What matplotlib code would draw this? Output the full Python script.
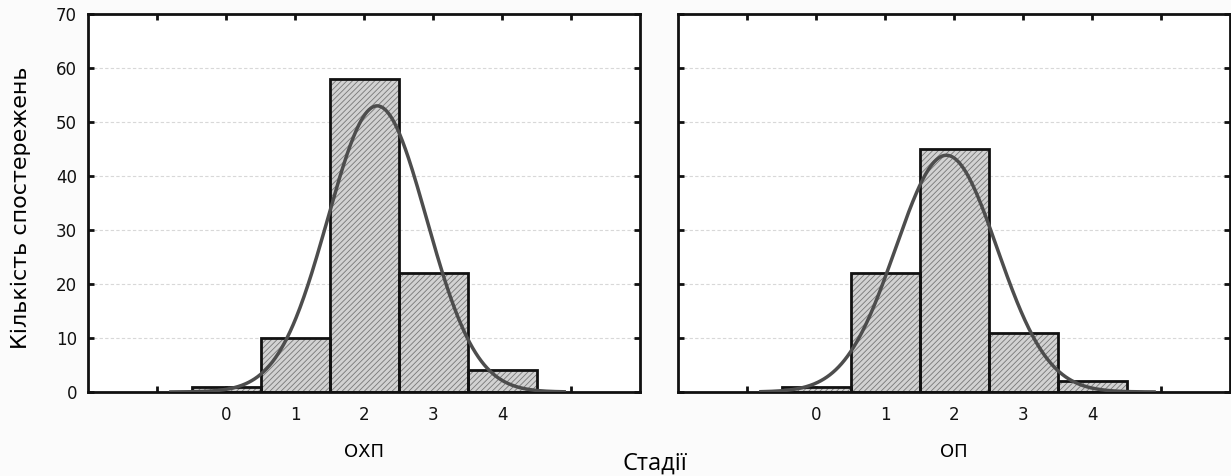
import numpy as np
import matplotlib
matplotlib.use("Agg")
import matplotlib.pyplot as plt

plt.rcParams['font.family'] = ['DejaVu Sans']
plt.rcParams['hatch.linewidth'] = 0.6

stages = [0, 1, 2, 3, 4]
ohp_counts = [1, 10, 58, 22, 4]
op_counts = [1, 22, 45, 11, 2]
panel_names = ["ОХП", "ОП"]
ylabel_text = "Кількість спостережень"
xlabel_text = "Стадії"

fig = plt.figure(figsize=(12.31, 4.76), dpi=100, facecolor='#fbfbfb')
ax1 = fig.add_axes([0.0715, 0.1765, 0.4485, 0.794])
ax2 = fig.add_axes([0.5508, 0.1765, 0.4484, 0.794])


def normal_fit(x, counts):
    # fitted normal curve scaled to counts (bin width 1)
    x = np.array(x, dtype=float)
    c = np.array(counts, dtype=float)
    n = c.sum()
    m = (x * c).sum() / n
    sd = np.sqrt(((x - m) ** 2 * c).sum() / n)
    xs = np.linspace(-0.8, 4.9, 400)
    ys = n / (sd * np.sqrt(2 * np.pi)) * np.exp(-0.5 * ((xs - m) / sd) ** 2)
    return xs, ys


for ax, counts, name in [(ax1, ohp_counts, panel_names[0]), (ax2, op_counts, panel_names[1])]:
    ax.set_facecolor('white')
    ax.bar(stages, counts, width=1.0, color='#d2d2d2', edgecolor='#777777',
           hatch='//////', linewidth=0, zorder=2)
    ax.bar(stages, counts, width=1.0, fill=False, edgecolor='#111111',
           linewidth=2, zorder=3)
    xs, ys = normal_fit(stages, counts)
    ax.plot(xs, ys, color='#4d4d4d', lw=2.5, zorder=4)
    ax.set_xlim(-2, 6)
    ax.set_ylim(0, 70)
    ax.set_xticks(range(-1, 6))
    ax.set_xticklabels(['', '0', '1', '2', '3', '4', ''])
    ax.set_yticks(range(0, 71, 10))
    ax.grid(axis='y', color='#d8d8d8', linestyle=(0, (3, 2)), lw=0.8, zorder=0)
    ax.tick_params(direction='in', length=4, width=2, top=True, right=True,
                   labelsize=12, colors='#111111')
    ax.tick_params(axis='x', pad=10)
    ax.tick_params(axis='y', pad=8)
    for s in ax.spines.values():
        s.set_linewidth(2)
        s.set_color('#111111')
    ax.set_xlabel(name, fontsize=13, labelpad=14)

ax2.set_yticklabels([])
ax1.set_ylabel(ylabel_text, fontsize=16)
ax1.yaxis.set_label_coords(-0.104, 0.487)
fig.text(0.532, 0.027, xlabel_text, fontsize=17, ha='center', va='center',
         family=['Open Sans', 'DejaVu Sans'])

fig.savefig("out.png", dpi=100, facecolor=fig.get_facecolor())
